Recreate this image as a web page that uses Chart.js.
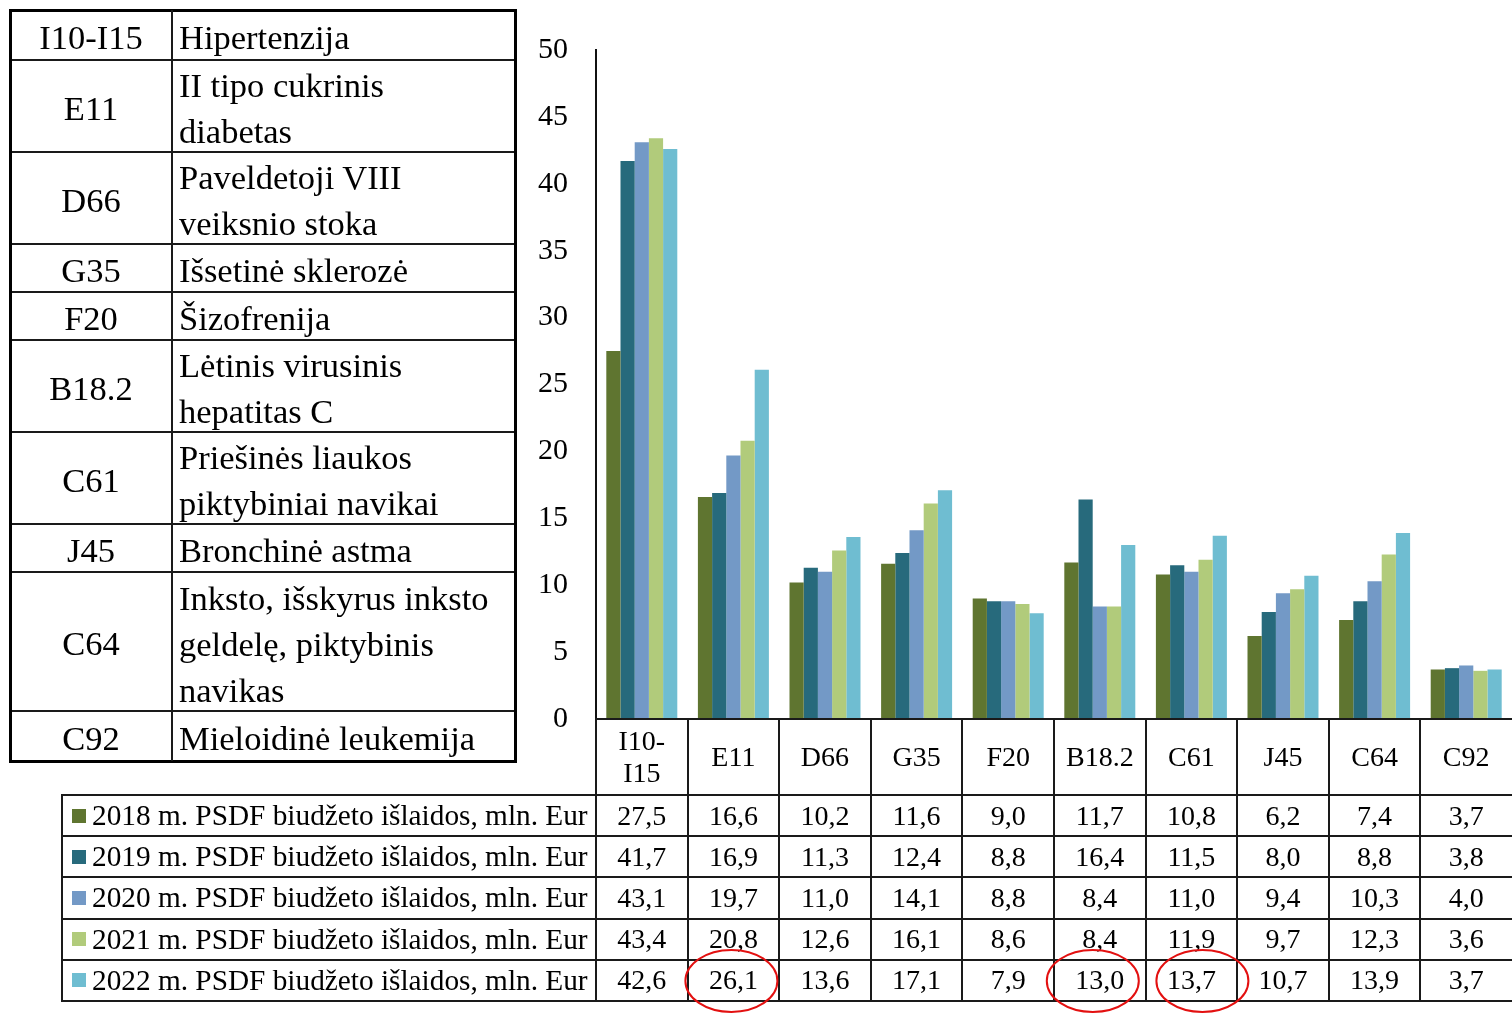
<!DOCTYPE html>
<html><head><meta charset="utf-8">
<script src="https://cdn.jsdelivr.net/npm/chart.js@4"></script>
<style>
body{margin:0;width:1512px;height:1014px;overflow:hidden;background:#fff;font-family:"Liberation Serif","Times New Roman",serif;color:#000;position:relative}
#wrap{position:absolute;left:0;top:0;width:1512px;height:760px}
.ln{position:absolute;background:#1a1a1a}
.txt{position:absolute;box-sizing:border-box;display:flex;align-items:center;white-space:nowrap}
.c{justify-content:center;text-align:center}
svg{position:absolute;left:0;top:0}
</style></head><body>
<div id="wrap"><canvas id="c"></canvas></div>
<div id="tbl"></div>
<script>
const categories = ["I10-I15","E11","D66","G35","F20","B18.2","C61","J45","C64","C92"];
const headerLabels = [["I10-","I15"],["E11"],["D66"],["G35"],["F20"],["B18.2"],["C61"],["J45"],["C64"],["C92"]];
const seriesNames = ["2018 m. PSDF biudžeto išlaidos, mln. Eur","2019 m. PSDF biudžeto išlaidos, mln. Eur","2020 m. PSDF biudžeto išlaidos, mln. Eur","2021 m. PSDF biudžeto išlaidos, mln. Eur","2022 m. PSDF biudžeto išlaidos, mln. Eur"];
const v2018 = [27.5,16.6,10.2,11.6,9.0,11.7,10.8,6.2,7.4,3.7];
const v2019 = [41.7,16.9,11.3,12.4,8.8,16.4,11.5,8.0,8.8,3.8];
const v2020 = [43.1,19.7,11.0,14.1,8.8,8.4,11.0,9.4,10.3,4.0];
const v2021 = [43.4,20.8,12.6,16.1,8.6,8.4,11.9,9.7,12.3,3.6];
const v2022 = [42.6,26.1,13.6,17.1,7.9,13.0,13.7,10.7,13.9,3.7];
const seriesColors = ["#5f7530","#276a7c","#7399c6","#b1cb7b","#6fbdd1"];
const yTicks = [0,5,10,15,20,25,30,35,40,45,50];
const highlighted = [[4,1],[4,5],[4,6]]; // [series, category] circled in red
const legendCodes = ["I10-I15","E11","D66","G35","F20","B18.2","C61","J45","C64","C92"];
const legendNames = [["Hipertenzija"],["II tipo cukrinis","diabetas"],["Paveldetoji VIII","veiksnio stoka"],["Išsetinė sklerozė"],["Šizofrenija"],["Lėtinis virusinis","hepatitas C"],["Priešinės liaukos","piktybiniai navikai"],["Bronchinė astma"],["Inksto, išskyrus inksto","geldelę, piktybinis","navikas"],["Mieloidinė leukemija"]];

const allSeries = [v2018,v2019,v2020,v2021,v2022];
const FONT = '"Liberation Serif","Times New Roman",serif';
const TARGET_BOTTOM = 719;

const chart = new Chart(document.getElementById('c'), {
  type: 'bar',
  data: {
    labels: categories,
    datasets: allSeries.map((d,i)=>({label: seriesNames[i], data: d, backgroundColor: seriesColors[i], borderWidth: 0}))
  },
  options: {
    responsive: true, maintainAspectRatio: false, animation: false,
    layout: {padding: {top: 50, bottom: 41, right: 0, left: 0}},
    plugins: {legend: {display: false}, tooltip: {enabled: false}},
    datasets: {bar: {categoryPercentage: 0.775, barPercentage: 1}},
    scales: {
      x: {display: false},
      y: {
        min: 0, max: 50,
        afterFit: s => { s.width = 596; },
        afterBuildTicks: s => { s.ticks = yTicks.map(v=>({value:v})); },
        grid: {display: false},
        border: {display: true, color: '#111', width: 2},
        ticks: {color: '#000', font: {family: FONT, size: 30}, padding: 20}
      }
    }
  }
});
// align the plot bottom with the table's top border
const wrap = document.getElementById('wrap');
const diff = TARGET_BOTTOM - chart.chartArea.bottom;
if (Math.abs(diff) > 0.5) { wrap.style.height = (760 + diff) + 'px'; chart.resize(1512, 760 + diff); }

// Build tables from chart geometry
const tbl = document.getElementById('tbl');
function line(x,y,w,h,col){const d=document.createElement('div');d.className='ln';d.style.cssText=`left:${x}px;top:${y}px;width:${w}px;height:${h}px;`+(col?`background:${col}`:'');tbl.appendChild(d);}
function text(x,y,w,h,html,cls,size,extra){const d=document.createElement('div');d.className='txt '+(cls||'');d.style.cssText=`left:${x}px;top:${y}px;width:${w}px;height:${h}px;font-size:${size}px;`+(extra||'');d.innerHTML=html;tbl.appendChild(d);}

const xs = chart.scales.x;
const ca = chart.chartArea;
const n = categories.length;
const step = (ca.right - ca.left)/n;
const bounds = [];
for(let i=0;i<=n;i++) bounds.push(ca.left + i*step);
const yAxis = ca.bottom;
const hdrBottom = 795;
const rowH = 41.2;
const rowTops = [0,1,2,3,4,5].map(i=>hdrBottom + i*rowH);
const legL = 62;

// header row
line(ca.left-1, yAxis-1, ca.right-ca.left+1, 2);
for(let i=0;i<n;i++){
  const lab = headerLabels[i];
  text(bounds[i], yAxis, step, hdrBottom-yAxis, lab.join('<br>'), 'c', 28, 'line-height:32px;');
}
// vertical lines
line(ca.left-1, yAxis, 2, rowTops[5]-yAxis+1);
for(let i=1;i<n;i++) line(bounds[i]-1, yAxis, 2, rowTops[5]-yAxis+1);
line(legL-1, hdrBottom, 2, rowTops[5]-hdrBottom+1);
// horizontal lines
for(let r=0;r<6;r++) line(legL-1, rowTops[r]-1, 1512-legL+1, 2);
// rows
for(let r=0;r<5;r++){
  const t = rowTops[r];
  const sq = document.createElement('div');
  sq.style.cssText = `position:absolute;left:72px;top:${t+rowH/2-7}px;width:14px;height:14px;background:${seriesColors[r]}`;
  tbl.appendChild(sq);
  text(92, t, ca.left-92, rowH, seriesNames[r], '', 29.3, '');
  for(let i=0;i<n;i++){
    text(bounds[i], t, step, rowH, allSeries[r][i].toFixed(1).replace('.',','), 'c', 28, '');
  }
}

// left code table
const L = {x0:10, x1:515, xm:172, y0:10};
const lrh = [50,92,92,48,48,92,92,48,139,50];
let yy = L.y0;
for(let i=0;i<lrh.length;i++){
  text(L.x0, yy+2, L.xm-L.x0, lrh[i], legendCodes[i], 'c', 34.5, '');
  text(L.xm+7, yy+2, L.x1-L.xm-7, lrh[i], legendNames[i].join('<br>'), '', 34.5, 'line-height:46px;');
  if(i>0) line(L.x0, yy-1, L.x1-L.x0, 2);
  yy += lrh[i];
}
line(L.x0-1, L.y0-1, L.x1-L.x0+3, 3, '#000');
line(L.x0-1, yy-1, L.x1-L.x0+3, 3, '#000');
line(L.x0-1, L.y0-1, 3, yy-L.y0+2, '#000');
line(L.x1-1, L.y0-1, 3, yy-L.y0+2, '#000');
line(L.xm-1, L.y0, 2, yy-L.y0);

// red ellipses around highlighted values (hand-drawn offsets)
const ellipseShift = [-2, -7, 11];
const svgNS = 'http://www.w3.org/2000/svg';
const svg = document.createElementNS(svgNS,'svg');
svg.setAttribute('width',1512); svg.setAttribute('height',1014);
highlighted.forEach(([s,c],k)=>{
  const cx = xs.getPixelForValue(c) + ellipseShift[k];
  const cy = rowTops[s] + rowH/2;
  const e = document.createElementNS(svgNS,'ellipse');
  e.setAttribute('cx', cx); e.setAttribute('cy', cy + 0.5);
  e.setAttribute('rx', 46); e.setAttribute('ry', 31);
  e.setAttribute('fill','none'); e.setAttribute('stroke','#e31010'); e.setAttribute('stroke-width',2);
  svg.appendChild(e);
});
tbl.appendChild(svg);
</script>
</body></html>
